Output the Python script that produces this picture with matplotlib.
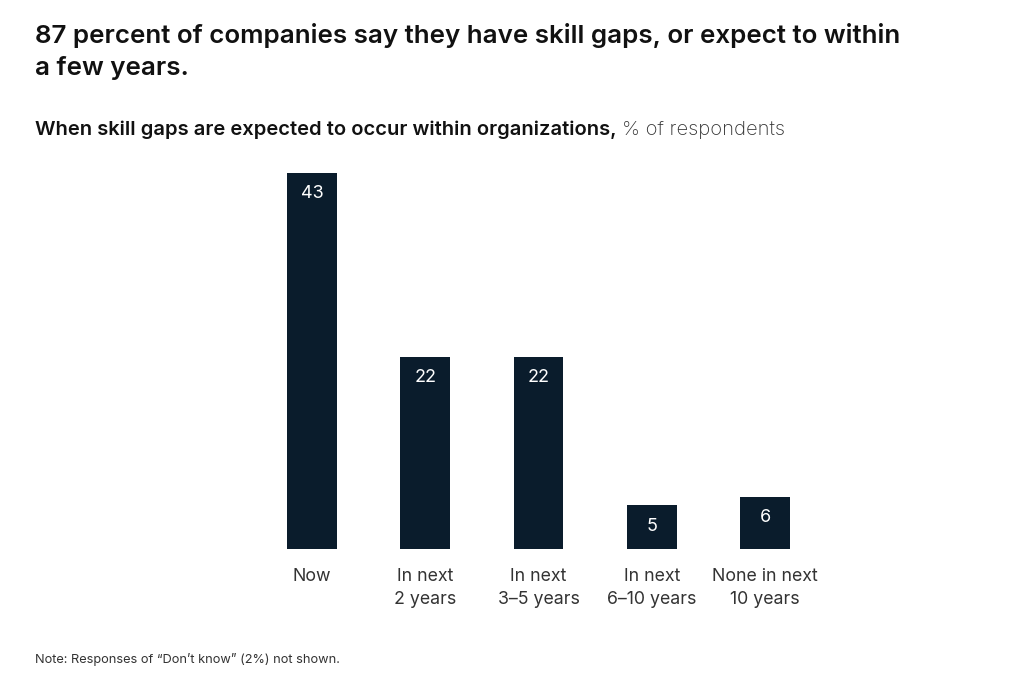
import matplotlib
matplotlib.use("Agg")
import matplotlib.pyplot as plt
import numpy as np

plt.rcParams['font.family'] = ['Inter', 'DejaVu Sans']

categories = ["Now", "In next\n2 years", "In next\n3\u20135 years", "In next\n6\u201310 years", "None in next\n10 years"]
values = [43, 22, 22, 5, 6]

bar_color = '#0a1c2c'

fig = plt.figure(figsize=(10.24, 6.81), dpi=100)
# axes placed so bars land where the reference has them
ax = fig.add_axes([255.4 / 1024, 1 - 549 / 681, 566.25 / 1024, 376 / 681])
x = np.arange(len(values))
bars = ax.bar(x, values, width=0.44, color=bar_color)
ax.set_xlim(-0.5, 4.5)
ax.set_ylim(0, 43)

for xi, v in zip(x, values):
    ax.annotate(str(v), xy=(xi, v), xytext=(0, -15), textcoords='offset points',
                ha='center', va='center', color='white', fontsize=13)

ax.set_xticks(x)
ax.set_xticklabels(categories, fontsize=12.8, color='#333333', linespacing=1.45)
ax.tick_params(axis='x', length=0, pad=14)
ax.set_yticks([])
for s in ax.spines.values():
    s.set_visible(False)

fig.text(35 / 1024, 1 - 23 / 681,
         "87 percent of companies say they have skill gaps, or expect to within\na few years.",
         fontsize=18.7, fontweight='semibold', color='#111111', va='top', ha='left', linespacing=1.43)

t1 = fig.text(35 / 1024, 1 - 139 / 681, "When skill gaps are expected to occur within organizations,",
              fontsize=14.5, fontweight='semibold', color='#111111', va='bottom', ha='left')
ax.annotate("% of respondents", xy=(1, 0), xycoords=t1, xytext=(4, 0), textcoords='offset points',
            fontsize=14.5, color='#333333', va='bottom', ha='left', fontweight='light', annotation_clip=False)

fig.text(35 / 1024, 1 - 659 / 681, "Note: Responses of \u201cDon\u2019t know\u201d (2%) not shown.",
         fontsize=9.2, color='#333333', va='center', ha='left')

fig.savefig("out.png", dpi=100, facecolor='white')
